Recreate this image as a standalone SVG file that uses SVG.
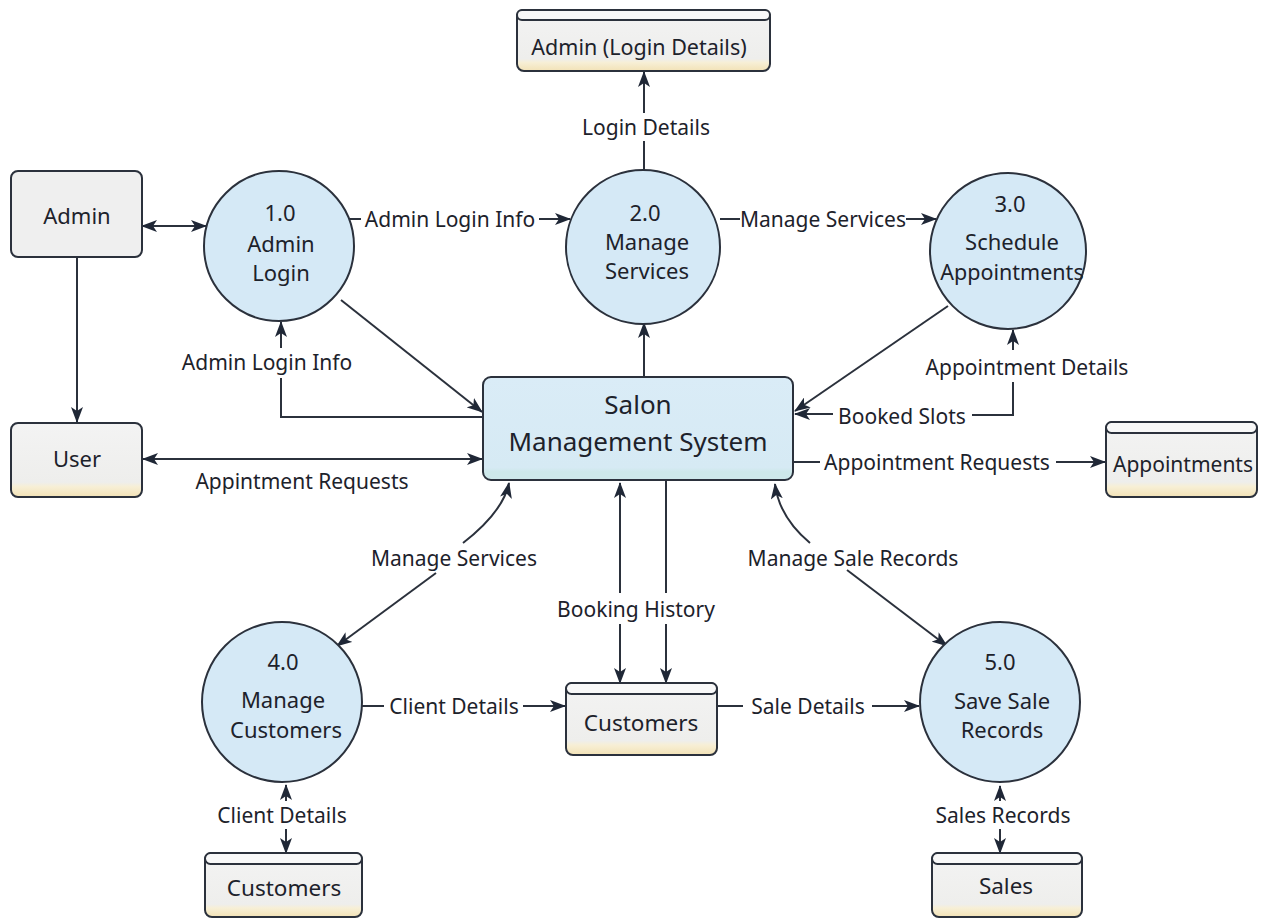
<svg xmlns="http://www.w3.org/2000/svg" width="1264" height="919" viewBox="0 0 1264 919">
<style>
text{font-family:"Noto Sans","Open Sans","DejaVu Sans",sans-serif;fill:#1d222b;text-anchor:middle;dominant-baseline:central}
.lbl{font-size:21px}
.nt{font-size:22px}
.ct{font-size:26px}
.st{font-size:22.5px}
.proc{fill:#d5e9f6;stroke:#2b313c;stroke-width:2}
.ent{stroke:#2b313c;stroke-width:2}
.ln{fill:none;stroke:#2b313c;stroke-width:2}
</style>
<defs>
<marker id="arr" viewBox="0 0 16 12" refX="15" refY="6" markerWidth="16" markerHeight="12" markerUnits="userSpaceOnUse" orient="auto-start-reverse">
<path d="M0,0 L16,6 L0,12 L4,6 z" fill="#1f2736"/>
</marker>
<linearGradient id="gs" x1="0" y1="0" x2="0" y2="1">
<stop offset="0" stop-color="#f3f3f3"/>
<stop offset="0.8" stop-color="#eeeeec"/>
<stop offset="0.86" stop-color="#f7efd6"/>
<stop offset="1" stop-color="#f2e2b6"/>
</linearGradient>
<linearGradient id="gc" x1="0" y1="0" x2="0" y2="1">
<stop offset="0" stop-color="#daecf7"/>
<stop offset="0.88" stop-color="#d6eaf4"/>
<stop offset="0.92" stop-color="#cde8ea"/>
<stop offset="1" stop-color="#cde8ea"/>
</linearGradient>
</defs>
<rect width="1264" height="919" fill="#ffffff"/>

<g id="connectors">
<path class="ln" d="M142,226 L206,226" marker-start="url(#arr)" marker-end="url(#arr)"/>
<path class="ln" d="M77,257 L77,422" marker-end="url(#arr)"/>
<path class="ln" d="M349,219 L361,219"/>
<path class="ln" d="M539,219 L570,219" marker-end="url(#arr)"/>
<path class="ln" d="M720,219 L740,219"/>
<path class="ln" d="M906,219 L936,219" marker-end="url(#arr)"/>
<path class="ln" d="M644,170 L644,141"/>
<path class="ln" d="M644,113 L644,72" marker-end="url(#arr)"/>
<path class="ln" d="M644,377 L644,323" marker-end="url(#arr)"/>
<path class="ln" d="M341,300 L482,412" marker-end="url(#arr)"/>
<path class="ln" d="M483,417 L281,417 L281,378"/>
<path class="ln" d="M281,348 L281,322" marker-end="url(#arr)"/>
<path class="ln" d="M143,459 L482,459" marker-start="url(#arr)" marker-end="url(#arr)"/>
<path class="ln" d="M948,306 L795,411" marker-end="url(#arr)"/>
<path class="ln" d="M972,415 L1013,415 L1013,382"/>
<path class="ln" d="M1013,350 L1013,330" marker-end="url(#arr)"/>
<path class="ln" d="M833,414 L795,414" marker-end="url(#arr)"/>
<path class="ln" d="M793,462 L820,462"/>
<path class="ln" d="M1056,462 L1105,462" marker-end="url(#arr)"/>
<path class="ln" d="M463,543 Q503,512 509,483" marker-end="url(#arr)"/>
<path class="ln" d="M436,573 L337,646" marker-end="url(#arr)"/>
<path class="ln" d="M620,593 L620,483" marker-end="url(#arr)"/>
<path class="ln" d="M620,624 L620,683" marker-end="url(#arr)"/>
<path class="ln" d="M666,480 L666,593"/>
<path class="ln" d="M666,624 L666,683" marker-end="url(#arr)"/>
<path class="ln" d="M362,706 L384,706"/>
<path class="ln" d="M523,706 L565,706" marker-end="url(#arr)"/>
<path class="ln" d="M717,706 L743,706"/>
<path class="ln" d="M872,706 L919,706" marker-end="url(#arr)"/>
<path class="ln" d="M810,543 Q779,517 775,484" marker-end="url(#arr)"/>
<path class="ln" d="M847,570 L947,646" marker-end="url(#arr)"/>
<path class="ln" d="M286,801 L286,785" marker-end="url(#arr)"/>
<path class="ln" d="M286,829 L286,853" marker-end="url(#arr)"/>
<path class="ln" d="M1000,801 L1000,786" marker-end="url(#arr)"/>
<path class="ln" d="M1000,829 L1000,853" marker-end="url(#arr)"/>
<text class="lbl" x="450" y="219">Admin Login Info</text>
<text class="lbl" x="823" y="219">Manage Services</text>
<text class="lbl" x="646" y="127">Login Details</text>
<text class="lbl" x="267" y="362">Admin Login Info</text>
<text class="lbl" x="302" y="481">Appintment Requests</text>
<text class="lbl" x="902" y="416">Booked Slots</text>
<text class="lbl" x="1027" y="367">Appointment Details</text>
<text class="lbl" x="937" y="462">Appointment Requests</text>
<text class="lbl" x="454" y="558">Manage Services</text>
<text class="lbl" x="636" y="609">Booking History</text>
<text class="lbl" x="853" y="558">Manage Sale Records</text>
<text class="lbl" x="454" y="706">Client Details</text>
<text class="lbl" x="808" y="706">Sale Details</text>
<text class="lbl" x="282" y="815">Client Details</text>
<text class="lbl" x="1003" y="815">Sales Records</text>
</g>

<g id="store-admin-login">
<rect class="ent" x="517" y="10" width="253" height="61" rx="7" fill="url(#gs)"/>
<rect class="ent" x="517" y="10" width="253" height="10" rx="5" fill="#f8f8f8"/>
<text class="st" x="639" y="46" style="font-size:21.5px">Admin (Login Details)</text>
</g>

<g id="ext-admin">
<rect class="ent" x="11" y="171" width="131" height="86" rx="7" fill="#efefef"/>
<text class="nt" x="77" y="215">Admin</text>
</g>

<g id="ext-user">
<rect class="ent" x="11" y="423" width="131" height="74" rx="7" fill="url(#gs)"/>
<text class="nt" x="77" y="458">User</text>
</g>

<g id="p1">
<circle class="proc" cx="279" cy="246" r="75"/>
<text class="nt" x="280" y="212">1.0</text>
<text class="nt" x="281" y="243">Admin</text>
<text class="nt" x="281" y="272">Login</text>
</g>

<g id="p2">
<circle class="proc" cx="643" cy="247" r="77"/>
<text class="nt" x="645" y="212">2.0</text>
<text class="nt" x="647" y="241">Manage</text>
<text class="nt" x="647" y="270">Services</text>
</g>

<g id="p3">
<circle class="proc" cx="1008" cy="251" r="78"/>
<text class="nt" x="1010" y="203">3.0</text>
<text class="nt" x="1012" y="241">Schedule</text>
<text class="nt" x="1012" y="271" style="font-size:21.5px">Appointments</text>
</g>

<g id="center">
<rect class="ent" x="483" y="377" width="310" height="103" rx="8" fill="url(#gc)"/>
<text class="ct" x="638" y="404">Salon</text>
<text class="ct" x="638" y="441">Management System</text>
</g>

<g id="store-appointments">
<rect class="ent" x="1106" y="422" width="151" height="75" rx="7" fill="url(#gs)"/>
<rect class="ent" x="1106" y="422" width="151" height="11" rx="5.5" fill="#f8f8f8"/>
<text class="st" x="1183" y="464" style="font-size:21px">Appointments</text>
</g>

<g id="p4">
<circle class="proc" cx="282" cy="702" r="80"/>
<text class="nt" x="283" y="661">4.0</text>
<text class="nt" x="283" y="699">Manage</text>
<text class="nt" x="286" y="729">Customers</text>
</g>

<g id="store-customers-mid">
<rect class="ent" x="566" y="683" width="151" height="72" rx="7" fill="url(#gs)"/>
<rect class="ent" x="566" y="683" width="151" height="11" rx="5.5" fill="#f8f8f8"/>
<text class="st" x="641" y="722">Customers</text>
</g>

<g id="p5">
<circle class="proc" cx="1000" cy="702" r="80"/>
<text class="nt" x="1000" y="661">5.0</text>
<text class="nt" x="1002" y="700">Save Sale</text>
<text class="nt" x="1002" y="729">Records</text>
</g>

<g id="store-customers-bottom">
<rect class="ent" x="205" y="853" width="157" height="64" rx="7" fill="url(#gs)"/>
<rect class="ent" x="205" y="853" width="157" height="11" rx="5.5" fill="#f8f8f8"/>
<text class="st" x="284" y="887">Customers</text>
</g>

<g id="store-sales">
<rect class="ent" x="932" y="853" width="150" height="64" rx="7" fill="url(#gs)"/>
<rect class="ent" x="932" y="853" width="150" height="11" rx="5.5" fill="#f8f8f8"/>
<text class="st" x="1006" y="885">Sales</text>
</g>
</svg>
